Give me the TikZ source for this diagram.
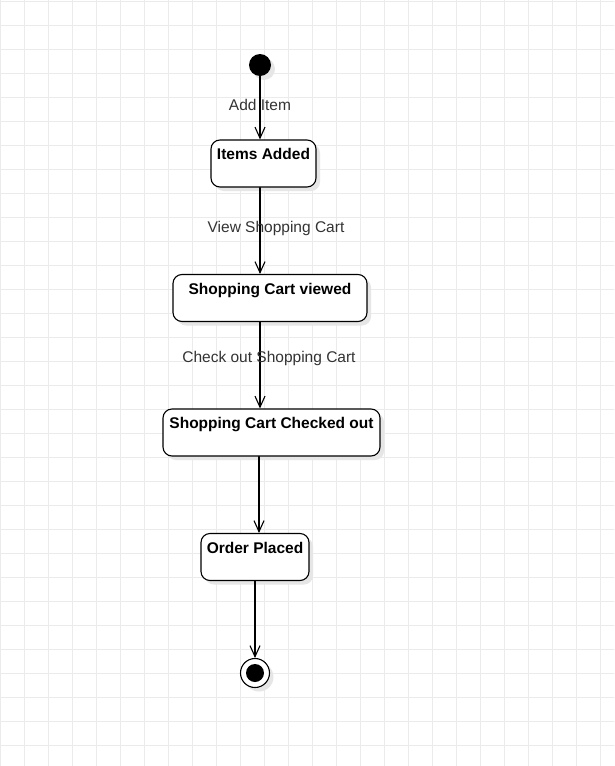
\documentclass[tikz,border=0pt]{standalone}
\usepackage{fontspec}
\setmainfont{Liberation Sans}
\usepackage{tikz}
\usetikzlibrary{arrows.meta}
\usetikzlibrary{shadows}
\definecolor{gridgray}{HTML}{EBEBEB}
\definecolor{lblgray}{HTML}{333333}
\definecolor{shadowgray}{HTML}{E6E6E6}

\begin{document}
\begin{tikzpicture}[x=1pt,y=-1pt,line cap=round,line join=round,
    flow/.style={line width=1.1pt,-{Straight Barb[length=11pt,width=10pt,line width=1.1pt]}},
    gridline/.style={color=gridgray,line width=0.8pt},
    boxshadow/.style={drop shadow={shadow xshift=4pt,shadow yshift=-4pt,fill=shadowgray,opacity=1}},
    state/.style={draw,rounded corners=9pt,line width=1.1pt,fill=white,inner ysep=0pt,
      text height=19.5pt,text depth=27.5pt,font=\fontsize{15.5pt}{18pt}\selectfont\bfseries,boxshadow},
    edgelbl/.style={anchor=base,inner sep=0pt,text=lblgray,font=\fontsize{15.5pt}{18pt}\selectfont}]
        \useasboundingbox (0,0) rectangle (614,766);
        \fill[white] (0,0) rectangle (614,766);
        \foreach \gx in {0,24,...,600} \draw[gridline] (\gx,0) -- (\gx,766);
        \foreach \gy in {1,25,...,745} \draw[gridline] (0,\gy) -- (614,\gy);
        \node[circle,fill=black,minimum size=22pt,inner sep=0pt,boxshadow] (init) at (260,65) {};
        \node[state,minimum width=105pt] (items) at (263.5,163.5) {Items Added};
        \node[state,minimum width=194pt] (viewed) at (270,298) {Shopping Cart viewed};
        \node[state,minimum width=217pt] (checked) at (271.5,432.5) {Shopping Cart Checked out};
        \node[state,minimum width=108pt] (placed) at (255,557) {Order Placed};
        \node[circle,draw,line width=1.1pt,fill=white,minimum size=29pt,inner sep=0pt,boxshadow] (final) at (255,673) {};
        \fill[black] (final) circle (9pt);
        \draw[flow] (init) -- (init |- items.north);
        \draw[flow] (items.south -| init) -- (viewed.north -| init);
        \draw[flow] (viewed.south -| init) -- (checked.north -| init);
        \draw[flow] ([xshift=-1pt]checked.south -| init) -- ([xshift=-1pt]placed.north -| init);
        \draw[flow] (placed.south -| final) -- (final.north);
        \node[edgelbl] (addlbl) at (260,110.5) {Add Item};
        \node[edgelbl] (viewlbl) at (276,232.5) {View Shopping Cart};
        \node[edgelbl] (checklbl) at (269,362.5) {Check out Shopping Cart};
\end{tikzpicture}
\end{document}
